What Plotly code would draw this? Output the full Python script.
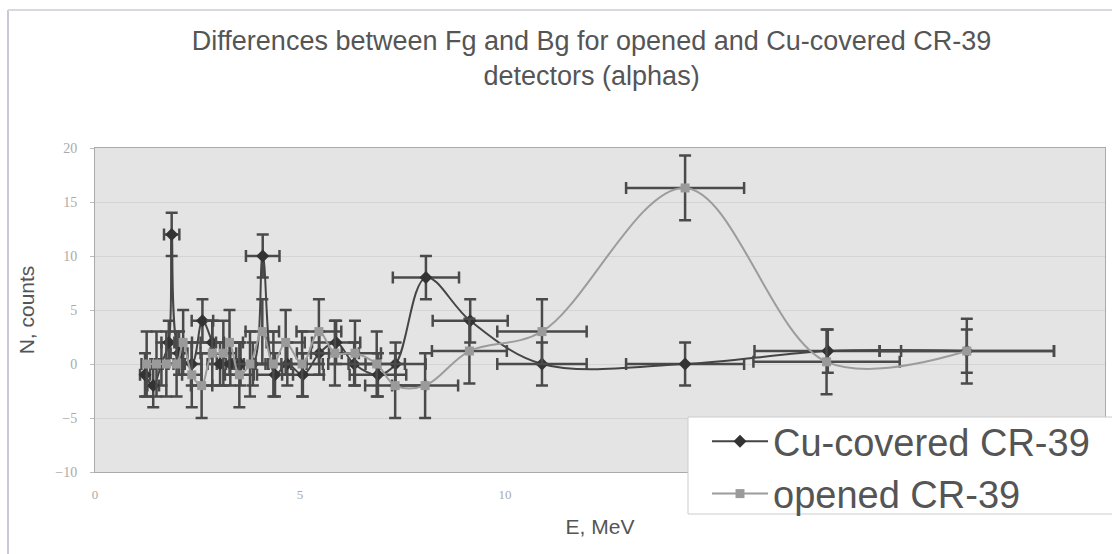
import plotly.graph_objects as go

# Cu-covered CR-39
cu_E = [1.22, 1.42, 1.62, 1.80, 1.87, 2.05, 2.36, 2.62, 2.86, 3.05, 3.30, 3.55, 3.85,
        4.09, 4.39, 4.69, 5.07, 5.47, 5.88, 6.32, 6.90, 7.33, 8.07, 9.15, 10.90,
        14.39, 17.87, 21.26]
cu_N = [-1, -2, 0, 2, 12, 1, 0, 4, 2, 0, 0, 0, 0,
        10, -1, 0, -1, 1, 2, 0, -1, 0, 8, 4, 0,
        0, 1.2, 1.2]
cu_err = [2] * len(cu_N)

# opened CR-39
op_E = [1.26, 1.50, 1.74, 1.99, 2.15, 2.36, 2.60, 2.86, 3.13, 3.28, 3.52, 3.78, 4.08,
        4.35, 4.65, 5.05, 5.46, 5.85, 6.34, 6.87, 7.32, 8.05, 9.13, 10.90,
        14.39, 17.84, 21.26]
op_N = [0, 0, 0, 0, 2, -1, -2, 1, 1, 2, -1, 0, 3,
        0, 2, 0, 3, 1, 1, 0, -2, -2, 1.2, 3,
        16.3, 0.2, 1.2]
op_err = [3] * len(op_N)

x_ticks = [0, 5, 10]
y_ticks = [-10, -5, 0, 5, 10, 15, 20]

ERR = "#4a4a4a"
L, R, T, B = 95, 7, 148, 82
PW, PH = 1112 - L - R, 554 - T - B


def px_x(p):
    return (p - L) / PW


def px_y(p):
    return (554 - B - p) / PH


fig = go.Figure()
fig.add_trace(go.Scatter(
    x=cu_E, y=cu_N, name="Cu-covered CR-39", mode="lines+markers",
    line=dict(color="#454545", width=2, shape="spline", smoothing=1.0),
    marker=dict(symbol="diamond", size=10, color="#333333"),
    error_y=dict(type="data", array=cu_err, color=ERR, thickness=2.5, width=6),
    error_x=dict(type="percent", value=10, color=ERR, thickness=2.5, width=6),
))
fig.add_trace(go.Scatter(
    x=op_E, y=op_N, name="opened CR-39", mode="lines+markers",
    line=dict(color="#9c9c9c", width=2, shape="spline", smoothing=1.0),
    marker=dict(symbol="square", size=9, color="#9a9a9a"),
    error_y=dict(type="data", array=op_err, color=ERR, thickness=2.5, width=6),
    error_x=dict(type="percent", value=10, color=ERR, thickness=2.5, width=6),
))

fig.update_layout(
    width=1112, height=554,
    margin=dict(l=L, r=R, t=T, b=B),
    paper_bgcolor="white",
    plot_bgcolor="#e4e4e4",
    title=dict(
        text="Differences between Fg and Bg for opened and Cu-covered CR-39<br>detectors (alphas)",
        x=0.532, xanchor="center", y=0.91, yanchor="top", yref="container",
        font=dict(family="Liberation Sans, Arial", size=27, color="#555555"),
    ),
    xaxis=dict(
        range=[0, 24.63], tickvals=x_ticks, ticks="", showgrid=False, zeroline=False,
        showline=True, linecolor="#aaaaaa", mirror=True, ticklabelstandoff=10,
        tickfont=dict(family="Liberation Serif, Times New Roman", size=13, color="#aaaaaa"),
        title=dict(text="E, MeV", standoff=18,
                   font=dict(family="Liberation Sans, Arial", size=21, color="#555555")),
    ),
    yaxis=dict(
        range=[-10, 20], tickvals=y_ticks, ticks="outside", ticklen=4, tickcolor="#bbbbbb",
        showgrid=True, gridcolor="#d4d4d4", gridwidth=1, zeroline=False,
        showline=True, linecolor="#aaaaaa", mirror=True, ticklabelstandoff=10,
        tickfont=dict(family="Liberation Serif, Times New Roman", size=14, color="#aaaaaa"),
        title=dict(text="N, counts", standoff=14,
                   font=dict(family="Liberation Sans, Arial", size=21, color="#555555")),
    ),
    legend=dict(
        x=px_x(707), y=px_y(410), xanchor="left", yanchor="top",
        bgcolor="rgba(0,0,0,0)", borderwidth=0,
        font=dict(family="Liberation Sans, Arial", size=38, color="#555555"),
        itemwidth=56, tracegroupgap=0,
    ),
    showlegend=True,
)

# legend box
fig.add_shape(type="rect", xref="paper", yref="paper", layer="above",
              x0=px_x(688), x1=px_x(1125), y0=px_y(514), y1=px_y(417),
              fillcolor="white", line=dict(color="#cccccc", width=1))
# outer chart frame (left and top)
fig.add_shape(type="line", xref="paper", yref="paper", x0=px_x(8), x1=px_x(8), y0=px_y(554), y1=px_y(10),
              line=dict(color="#c8c8d8", width=2))
fig.add_shape(type="line", xref="paper", yref="paper", x0=px_x(8), x1=px_x(1112), y0=px_y(10), y1=px_y(10),
              line=dict(color="#d8d8e0", width=2))

fig.write_html("out.html")
